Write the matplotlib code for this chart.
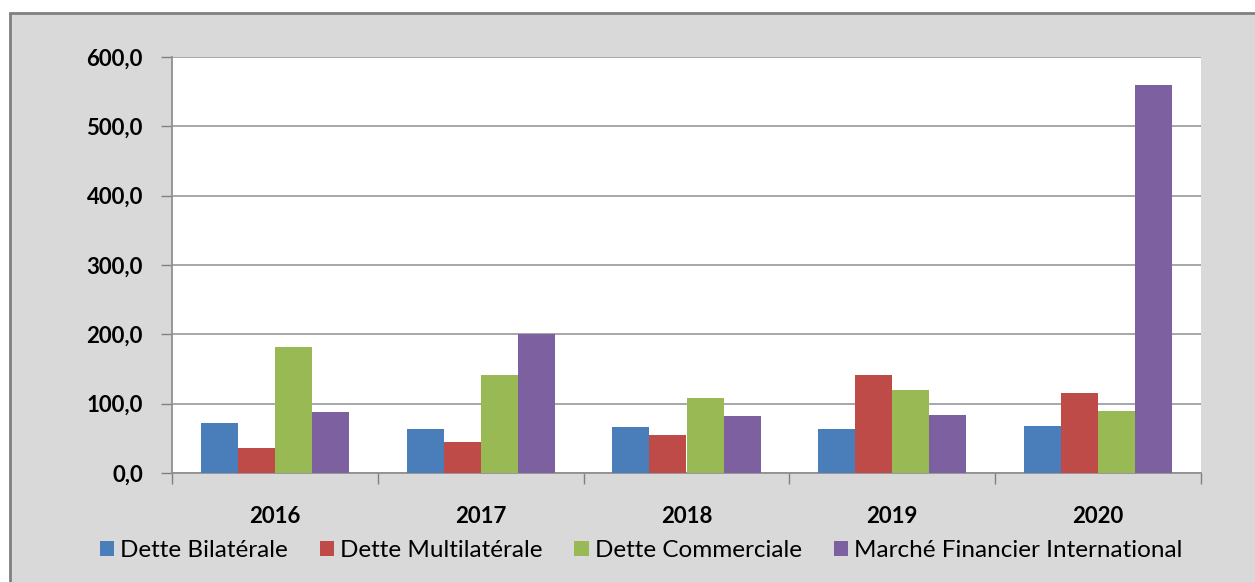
import numpy as np
import matplotlib.pyplot as plt
from matplotlib.patches import Rectangle

# Données
annees = ['2016', '2017', '2018', '2019', '2020']
bilaterale = [72.5, 63.0, 66.0, 63.0, 68.5]
multilaterale = [36.5, 45.0, 54.5, 141.0, 115.5]
commerciale = [182.0, 142.0, 108.0, 120.0, 89.0]
marche = [88.0, 200.0, 81.5, 83.0, 559.0]

series = [
    ('Dette Bilatérale', bilaterale, '#4a7ebb'),
    ('Dette Multilatérale', multilaterale, '#be4b48'),
    ('Dette Commerciale', commerciale, '#98b954'),
    ('Marché Financier International', marche, '#7d60a0'),
]

plt.rcParams['font.family'] = ['Lato', 'DejaVu Sans']

fig = plt.figure(figsize=(12.55, 5.82), dpi=100)
fig.patch.set_facecolor('white')
# fond gris du cadre
fond = Rectangle((10 / 1255, -0.05), 1.1, 1.05 - 13 / 582, transform=fig.transFigure,
                 facecolor='#d9d9d9', edgecolor='#808080', linewidth=2.0, zorder=-10)
fig.add_artist(fond)

ax = fig.add_axes([172 / 1255, 1 - 473 / 582, (1201 - 172) / 1255, (473 - 57) / 582])
ax.set_zorder(5)
ax.set_facecolor('white')

x = np.arange(len(annees))
w = 0.18
for i, (nom, vals, col) in enumerate(series):
    ax.bar(x + (i - 1.5) * w, vals, w, color=col, label=nom, zorder=3)

ax.set_xlim(-0.5, len(annees) - 0.5)
ax.set_ylim(0, 600)
ax.set_yticks(np.arange(0, 601, 100))
ax.set_yticklabels([f'{v:.1f}'.replace('.', ',') for v in np.arange(0, 601, 100)],
                   fontsize=16, fontweight='bold')
ax.yaxis.grid(True, color='#a0a0a0', linewidth=1.3, zorder=0)

# graduations entre les catégories
ax.set_xticks(np.arange(-0.5, len(annees)), minor=False)
ax.set_xticklabels([])
ax.set_xticks(x, minor=True)
ax.set_xticklabels(annees, minor=True, fontsize=16, fontweight='bold')
ax.tick_params(axis='x', which='minor', length=0, pad=24)
ax.tick_params(axis='x', which='major', length=8, color='#808080', width=1)
ax.tick_params(axis='y', length=8, color='#808080', width=1, pad=13)

for s in ['top', 'right']:
    ax.spines[s].set_visible(False)
for s in ['left', 'bottom']:
    ax.spines[s].set_color('#909090')
    ax.spines[s].set_linewidth(1.3)

ax.legend(loc='center', bbox_to_anchor=(0.456, -0.187), ncol=4, frameon=False,
          fontsize=17.5, handlelength=0.6, handleheight=0.6, handletextpad=0.25,
          columnspacing=1.3)

fig.savefig('out.png', dpi=100)
